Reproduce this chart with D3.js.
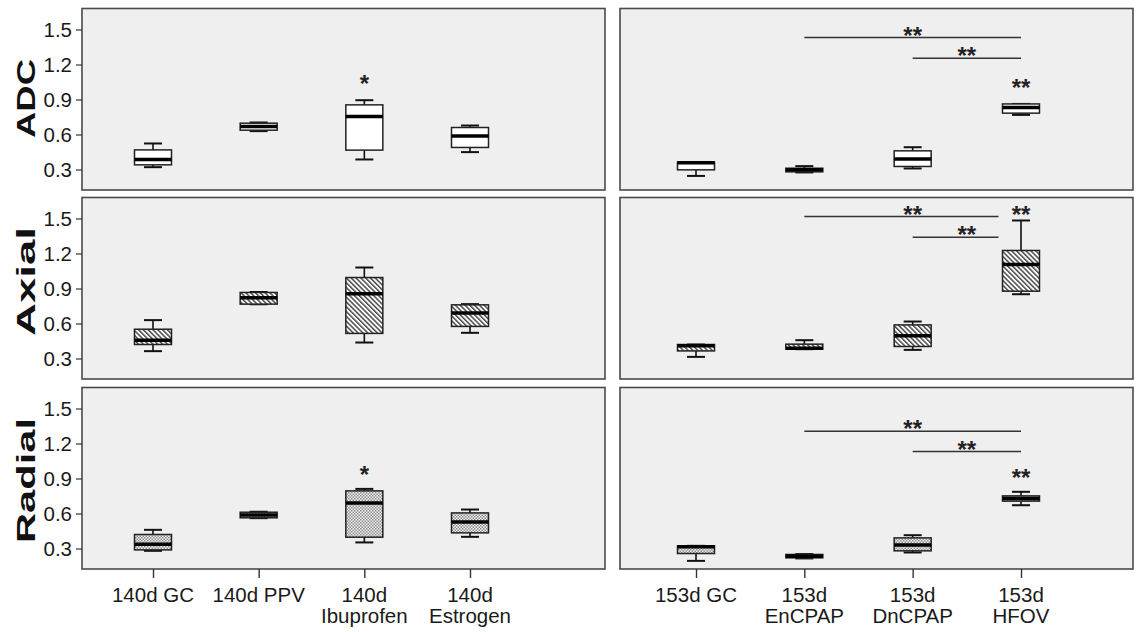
<!DOCTYPE html>
<html>
<head>
<meta charset="utf-8">
<script src="https://cdn.jsdelivr.net/npm/d3@7/dist/d3.min.js"></script>
<style>
  html, body { margin: 0; padding: 0; background: #fff; }
  svg { display: block; font-family: "Liberation Sans", Arial, sans-serif; }
</style>
</head>
<body>
<svg id="chart" width="1141" height="632"></svg>
<script>
// Groups in each column of panels
const groups140 = ["140d GC", "140d PPV", "140d Ibuprofen", "140d Estrogen"];
const groups153 = ["153d GC", "153d EnCPAP", "153d DnCPAP", "153d HFOV"];

// Tick labels under each column (two lines where the name wraps)
const labels140 = [["140d GC"], ["140d PPV"], ["140d", "Ibuprofen"], ["140d", "Estrogen"]];
const labels153 = [["153d GC"], ["153d", "EnCPAP"], ["153d", "DnCPAP"], ["153d", "HFOV"]];

const measures = ["ADC", "Axial", "Radial"];
const yTicks = [0.3, 0.6, 0.9, 1.2, 1.5];

// Five-number summaries per group: [min, q1, median, q3, max]
const adc140 = [
  [0.320, 0.340, 0.386, 0.468, 0.523],
  [0.629, 0.637, 0.669, 0.697, 0.703],
  [0.386, 0.466, 0.754, 0.854, 0.894],
  [0.449, 0.489, 0.588, 0.660, 0.677]
];
const adc153 = [
  [0.245, 0.297, 0.357, 0.364, 0.364],
  [0.275, 0.280, 0.297, 0.311, 0.329],
  [0.309, 0.326, 0.391, 0.460, 0.491],
  [0.768, 0.783, 0.831, 0.862, 0.862]
];
const axial140 = [
  [0.363, 0.420, 0.457, 0.551, 0.629],
  [0.765, 0.766, 0.820, 0.866, 0.870],
  [0.437, 0.515, 0.854, 0.994, 1.080],
  [0.520, 0.575, 0.691, 0.760, 0.766]
];
const axial153 = [
  [0.314, 0.365, 0.410, 0.420, 0.420],
  [0.380, 0.380, 0.387, 0.423, 0.457],
  [0.374, 0.403, 0.494, 0.588, 0.617],
  [0.851, 0.877, 1.106, 1.226, 1.483]
];
const radial140 = [
  [0.280, 0.288, 0.337, 0.420, 0.460],
  [0.560, 0.563, 0.588, 0.611, 0.615],
  [0.352, 0.397, 0.689, 0.794, 0.811],
  [0.400, 0.434, 0.528, 0.605, 0.634]
];
const radial153 = [
  [0.194, 0.257, 0.315, 0.323, 0.323],
  [0.215, 0.220, 0.234, 0.249, 0.252],
  [0.266, 0.280, 0.329, 0.391, 0.414],
  [0.671, 0.706, 0.729, 0.751, 0.786]
];

// Significance bars between groups (value = height of the bar)
const brackets = {
  ADC:    [{ from: "153d EnCPAP", to: "153d HFOV", value: 1.431, label: "**" },
           { from: "153d DnCPAP", to: "153d HFOV", value: 1.254, label: "**" }],
  Axial:  [{ from: "153d EnCPAP", to: "153d HFOV", value: 1.517, label: "**" },
           { from: "153d DnCPAP", to: "153d HFOV", value: 1.340, label: "**" }],
  Radial: [{ from: "153d EnCPAP", to: "153d HFOV", value: 1.305, label: "**" },
           { from: "153d DnCPAP", to: "153d HFOV", value: 1.131, label: "**" }]
};
// Stars above single groups
const marks = {
  ADC:    [{ group: "140d Ibuprofen", value: 1.072, label: "*" }, { group: "153d HFOV", value: 1.042, label: "**" }],
  Axial:  [{ group: "153d HFOV", value: 1.577, label: "**" }],
  Radial: [{ group: "140d Ibuprofen", value: 0.971, label: "*" }, { group: "153d HFOV", value: 0.948, label: "**" }]
};

const seriesByMeasure = {
  ADC: [adc140, adc153],
  Axial: [axial140, axial153],
  Radial: [radial140, radial153]
};
const fills = { ADC: "#ffffff", Axial: "url(#hatch)", Radial: "url(#dots)" };

// ---- layout ----
const columns = [
  { groups: groups140, labels: labels140, x0: 82, x1: 605, first: 153, last: 470 },
  { groups: groups153, labels: labels153, x0: 620, x1: 1133, first: 696, last: 1021 }
];
const rowTops = [8.5, 197.5, 387.5];
const rowH = 181.5;
const titleInfo = { ADC: { cy: 98.5, len: 79 }, Axial: { cy: 281.5, len: 109 }, Radial: { cy: 480.5, len: 125 } };
const boxW = 37, capW = 18;
const labelSize = 20.5;

const svg = d3.select("#chart");
const defs = svg.append("defs");

const hatch = defs.append("pattern").attr("id", "hatch")
  .attr("patternUnits", "userSpaceOnUse").attr("width", 3.4).attr("height", 3.4)
  .attr("patternTransform", "rotate(-45)");
hatch.append("rect").attr("width", 3.4).attr("height", 3.4).attr("fill", "#fff");
hatch.append("rect").attr("width", 1.5).attr("height", 3.4).attr("fill", "#4a4a4a");

const dots = defs.append("pattern").attr("id", "dots")
  .attr("patternUnits", "userSpaceOnUse").attr("width", 3).attr("height", 3);
dots.append("rect").attr("width", 3).attr("height", 3).attr("fill", "#f4f4f4");
dots.append("rect").attr("width", 1.5).attr("height", 1.5).attr("fill", "#8a8a8a");
dots.append("rect").attr("x", 1.5).attr("y", 1.5).attr("width", 1.5).attr("height", 1.5).attr("fill", "#8a8a8a");

measures.forEach((m, ri) => {
  const top = rowTops[ri];
  const y = d3.scaleLinear().domain([0.1243, 1.68]).range([top + rowH, top]);

  columns.forEach((col, ci) => {
    const x = d3.scalePoint().domain(col.groups).range([col.first, col.last]);
    const g = svg.append("g");

    g.append("rect")
      .attr("x", col.x0).attr("y", top)
      .attr("width", col.x1 - col.x0).attr("height", rowH)
      .attr("fill", "#efefef");

    const data = seriesByMeasure[m][ci].map((s, i) => ({ group: col.groups[i], s }));
    const box = g.selectAll("g.box").data(data).join("g").attr("class", "box");

    // whiskers
    box.append("line")
      .attr("x1", d => x(d.group)).attr("x2", d => x(d.group))
      .attr("y1", d => y(d.s[4])).attr("y2", d => y(d.s[3]))
      .attr("stroke", "#111").attr("stroke-width", 1.6);
    box.append("line")
      .attr("x1", d => x(d.group)).attr("x2", d => x(d.group))
      .attr("y1", d => y(d.s[1])).attr("y2", d => y(d.s[0]))
      .attr("stroke", "#111").attr("stroke-width", 1.6);
    [0, 4].forEach(k => {
      box.append("line")
        .attr("x1", d => x(d.group) - capW / 2).attr("x2", d => x(d.group) + capW / 2)
        .attr("y1", d => y(d.s[k])).attr("y2", d => y(d.s[k]))
        .attr("stroke", "#111").attr("stroke-width", 2);
    });
    // box
    box.append("rect")
      .attr("x", d => x(d.group) - boxW / 2).attr("width", boxW)
      .attr("y", d => y(d.s[3])).attr("height", d => Math.max(1, y(d.s[1]) - y(d.s[3])))
      .attr("fill", fills[m]).attr("stroke", "#222").attr("stroke-width", 1.5);
    // median
    box.append("line")
      .attr("x1", d => x(d.group) - boxW / 2).attr("x2", d => x(d.group) + boxW / 2)
      .attr("y1", d => y(d.s[2])).attr("y2", d => y(d.s[2]))
      .attr("stroke", "#000").attr("stroke-width", 3.5);

    // significance bars
    if (ci === 1) {
      const targetMax = b => seriesByMeasure[m][1][col.groups.indexOf(b.to)][4];
      brackets[m].forEach(b => {
        const xa = x(b.from);
        // stop short of the target box when the bar passes near its whisker
        const xb = b.value < targetMax(b) + 0.1 ? x(b.to) - boxW / 2 - 4 : x(b.to);
        g.append("line")
          .attr("x1", xa).attr("x2", xb)
          .attr("y1", y(b.value)).attr("y2", y(b.value))
          .attr("stroke", "#333").attr("stroke-width", 1.5);
        g.append("text")
          .attr("x", (x(b.from) + x(b.to)) / 2).attr("y", y(b.value) + 6)
          .attr("text-anchor", "middle")
          .attr("font-size", 24).attr("font-weight", "bold").attr("fill", "#222")
          .text(b.label);
      });
    }
    marks[m].filter(k => col.groups.includes(k.group)).forEach(k => {
      g.append("text")
        .attr("x", x(k.group)).attr("y", y(k.value) + 13)
        .attr("text-anchor", "middle")
        .attr("font-size", 24).attr("font-weight", "bold").attr("fill", "#222")
        .text(k.label);
    });

    g.append("rect")
      .attr("x", col.x0).attr("y", top)
      .attr("width", col.x1 - col.x0).attr("height", rowH)
      .attr("fill", "none").attr("stroke", "#4a4a4a").attr("stroke-width", 1.6);

    // y axis on the left column only
    if (ci === 0) {
      const ax = g.append("g")
        .attr("transform", `translate(${col.x0},0)`)
        .call(d3.axisLeft(y).tickValues(yTicks).tickSize(6).tickPadding(4).tickFormat(d3.format(".1f")));
      ax.select(".domain").remove();
      ax.selectAll("line").attr("stroke", "#333").attr("stroke-width", 1.2);
      ax.selectAll("text").attr("font-size", labelSize).attr("fill", "#1a1a1a")
        .attr("font-family", "'Liberation Sans', Arial, sans-serif");
    }

    // category axis under the bottom row
    if (ri === measures.length - 1) {
      const ax = g.append("g")
        .attr("transform", `translate(0,${top + rowH})`)
        .call(d3.axisBottom(x).tickSize(9).tickFormat(""));
      ax.select(".domain").remove();
      ax.selectAll("line").attr("stroke", "#333").attr("stroke-width", 1.4);
      const lbl = g.selectAll("text.cat").data(col.groups).join("text")
        .attr("class", "cat")
        .attr("x", d => x(d)).attr("y", top + rowH + 33)
        .attr("text-anchor", "middle")
        .attr("font-size", labelSize).attr("fill", "#1a1a1a");
      lbl.each(function (d, i) {
        const t = d3.select(this);
        col.labels[i].forEach((line, li) => {
          t.append("tspan").attr("x", x(d)).attr("dy", li === 0 ? 0 : 21).text(line);
        });
      });
    }
  });

  // measure title
  const ti = titleInfo[m];
  svg.append("text")
    .attr("transform", `translate(35,${ti.cy}) rotate(-90)`)
    .attr("text-anchor", "middle")
    .attr("font-size", 25).attr("font-weight", "bold").attr("fill", "#111")
    .attr("textLength", ti.len).attr("lengthAdjust", "spacingAndGlyphs")
    .text(m);
});
</script>
</body>
</html>
